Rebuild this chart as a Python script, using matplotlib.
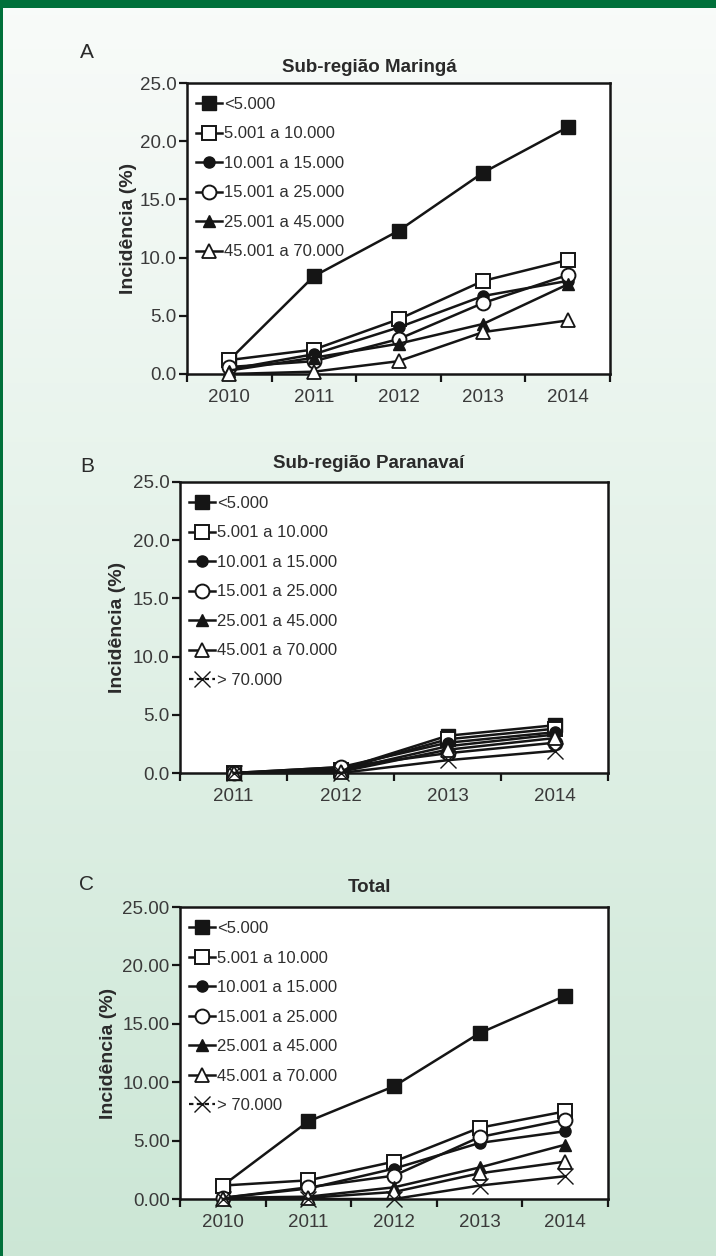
import numpy as np
import matplotlib
matplotlib.use("Agg")
import matplotlib.pyplot as plt
from matplotlib.lines import Line2D
from matplotlib.patches import Rectangle

plt.rcParams['font.family'] = ['Liberation Sans', 'DejaVu Sans']

# ---- data -------------------------------------------------------------
series_labels = ["<5.000", "5.001 a 10.000", "10.001 a 15.000", "15.001 a 25.000",
                 "25.001 a 45.000", "45.001 a 70.000", "> 70.000"]

years_maringa = [2010, 2011, 2012, 2013, 2014]
maringa = [
    [1.2, 8.4, 12.3, 17.3, 21.2],   # <5.000
    [1.2, 2.1, 4.7, 8.0, 9.8],      # 5.001 a 10.000
    [0.4, 1.7, 4.0, 6.7, 8.0],      # 10.001 a 15.000
    [0.6, 1.1, 3.0, 6.1, 8.5],      # 15.001 a 25.000
    [0.3, 1.4, 2.6, 4.3, 7.7],      # 25.001 a 45.000
    [0.0, 0.2, 1.1, 3.6, 4.6],      # 45.001 a 70.000
]

years_paranavai = [2011, 2012, 2013, 2014]
paranavai = [
    [0.0, 0.3, 3.2, 4.1],
    [0.0, 0.3, 2.9, 3.8],
    [0.0, 0.5, 2.6, 3.5],
    [0.0, 0.5, 1.7, 2.6],
    [0.0, 0.2, 2.3, 3.3],
    [0.0, 0.1, 2.0, 3.0],
    [0.0, 0.0, 1.1, 1.9],
]

years_total = [2010, 2011, 2012, 2013, 2014]
total = [
    [1.15, 6.65, 9.65, 14.2, 17.4],
    [1.15, 1.6, 3.2, 6.1, 7.5],
    [0.1, 0.9, 2.6, 4.8, 5.8],
    [0.1, 1.0, 2.0, 5.3, 6.8],
    [0.1, 0.2, 1.0, 2.7, 4.65],
    [0.0, 0.1, 0.6, 2.2, 3.2],
    [0.0, 0.0, 0.0, 1.15, 1.95],
]

# ---- styling ----------------------------------------------------------
INK = "#151515"
TICK_TXT = "#3a3a3a"
marker_styles = [
    dict(marker="s", markersize=10, markerfacecolor=INK, markeredgecolor=INK),
    dict(marker="s", markersize=10.5, markerfacecolor="white", markeredgecolor=INK, markeredgewidth=1.4),
    dict(marker="o", markersize=8, markerfacecolor=INK, markeredgecolor=INK),
    dict(marker="o", markersize=10, markerfacecolor="white", markeredgecolor=INK, markeredgewidth=1.4),
    dict(marker="^", markersize=9, markerfacecolor=INK, markeredgecolor=INK),
    dict(marker="^", markersize=10.5, markerfacecolor="white", markeredgecolor=INK, markeredgewidth=1.3),
    dict(marker="x", markersize=12, markerfacecolor="none", markeredgecolor=INK, markeredgewidth=1.0),
]

W, H = 716, 1256
fig = plt.figure(figsize=(W / 100, H / 100), dpi=100)

# page background: soft vertical gradient, green frame at top and left
bg = fig.add_axes([0, 0, 1, 1], zorder=-10)
top_c = np.array([0.975, 0.985, 0.978])
bot_c = np.array([0.800, 0.905, 0.838])
t = np.linspace(0, 1, 256)[:, None]
grad = (top_c[None, :] * (1 - t) + bot_c[None, :] * t)[:, None, :]
bg.imshow(grad, aspect="auto", extent=[0, 1, 0, 1], origin="upper")
bg.set_xlim(0, 1)
bg.set_ylim(0, 1)
bg.axis("off")
green = "#00703a"
fig.patches.append(Rectangle((0, 1 - 8 / H), 1, 8 / H, transform=fig.transFigure,
                             facecolor=green, edgecolor="none", zorder=5))
fig.patches.append(Rectangle((0, 0), 3 / W, 1, transform=fig.transFigure,
                             facecolor=green, edgecolor="none", zorder=5))


def px_axes(left, top, right, bottom):
    return fig.add_axes([left / W, 1 - bottom / H, (right - left) / W, (bottom - top) / H])


def draw_panel(ax, years, data, yfmt, title, letter, title_y, letter_y, ylabel_x):
    handles = []
    for i, vals in enumerate(data):
        ln, = ax.plot(years, vals, color=INK, linewidth=1.8, clip_on=False,
                      zorder=3 + i * 0.1, **marker_styles[i])
        if i == 6:
            leg_ln = Line2D([], [], color=INK, linewidth=1.6, linestyle=(0, (2.0, 1.5)),
                            **marker_styles[i])
            handles.append(leg_ln)
        else:
            handles.append(ln)
    ax.set_xlim(years[0] - 0.5, years[-1] + 0.5)
    ax.set_ylim(0, 25)
    ax.set_yticks([0, 5, 10, 15, 20, 25])
    ax.set_yticklabels([yfmt.format(v) for v in [0, 5, 10, 15, 20, 25]])
    ax.set_xticks(years)
    ax.set_xticklabels([str(y) for y in years])
    ax.set_xticks(np.arange(years[0] - 0.5, years[-1] + 0.6, 1.0), minor=True)
    ax.tick_params(axis="x", which="major", length=0, pad=11, labelsize=13.5, labelcolor=TICK_TXT)
    ax.tick_params(axis="x", which="minor", length=5.5, width=1.6, direction="out", color=INK)
    ax.tick_params(axis="y", which="major", length=5.5, width=1.6, direction="out", color=INK,
                   pad=2, labelsize=13.5, labelcolor=TICK_TXT)
    for s in ax.spines.values():
        s.set_linewidth(1.8)
        s.set_color(INK)
    ax.set_facecolor("white")
    ax.set_ylabel("Incidência (%)", fontsize=14, fontweight="bold", color="#2a2a2a")
    ax.yaxis.set_label_coords(ylabel_x, 0.5)
    ax.legend(handles, series_labels[:len(data)], loc="upper left",
              bbox_to_anchor=(0.022, 0.952), frameon=False, fontsize=12,
              handlelength=1.55, handletextpad=0.12, labelspacing=0.87,
              borderpad=0, borderaxespad=0, labelcolor="#2e2e2e")
    fig.text(369 / W, 1 - title_y / H, title, ha="center", va="center",
             fontsize=13.5, fontweight="bold", color="#2a2a2a")
    fig.text(87 / W, 1 - letter_y / H, letter, ha="center", va="center",
             fontsize=15, color="#2a2a2a")


axA = px_axes(187, 83, 610, 374)
draw_panel(axA, years_maringa, maringa, "{:.1f}", "Sub-região Maringá", "A", 67, 52, -0.118)

axB = px_axes(180, 482, 608, 773)
draw_panel(axB, years_paranavai, paranavai, "{:.1f}", "Sub-região Paranavaí", "B", 463, 466, -0.125)

axC = px_axes(180, 907, 608, 1199)
draw_panel(axC, years_total, total, "{:.2f}", "Total", "C", 887, 884, -0.148)

fig.savefig("out.png", dpi=100)
